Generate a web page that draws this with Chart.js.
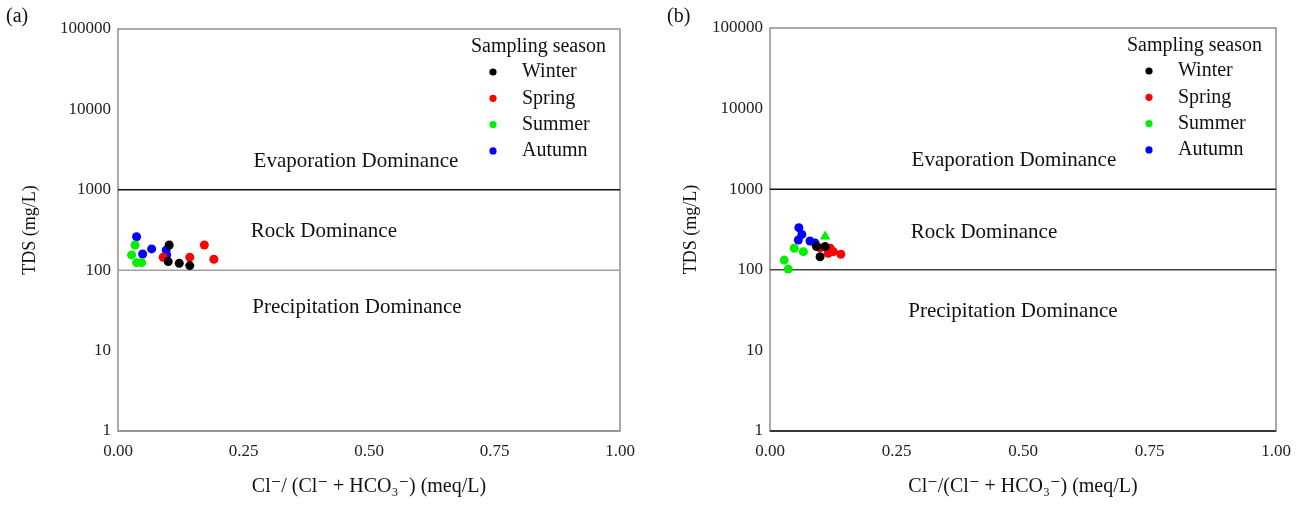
<!DOCTYPE html>
<html>
<head>
<meta charset="utf-8">
<script src="https://cdn.jsdelivr.net/npm/chart.js@4/dist/chart.umd.min.js"></script>
<style>
body{margin:0;background:#fff;width:1301px;height:506px;overflow:hidden;position:relative;font-family:"Liberation Serif",serif}
.box{position:absolute;top:0;height:506px}
.tag{position:absolute;top:4px;font-size:20px;color:#111;font-family:"Liberation Serif",serif}
</style>
</head>
<body>
<div class="box" style="left:0;width:650px"><canvas id="ca" width="650" height="506"></canvas></div>
<div class="box" style="left:650px;width:651px"><canvas id="cb" width="651" height="506"></canvas></div>
<div class="tag" style="left:6px">(a)</div>
<div class="tag" style="left:667px">(b)</div>
<script>
// seasons and colours
var seasons = ['Winter', 'Spring', 'Summer', 'Autumn'];
var seasonColors = ['#000000', '#ff0000', '#00ee00', '#0000ff'];
var legendTitle = 'Sampling season';
var zoneNames = ['Evaporation Dominance', 'Rock Dominance', 'Precipitation Dominance'];
var boundaryTDS = [1000, 100];
var yTicks = [1, 10, 100, 1000, 10000, 100000];
var xTicks = [0, 0.25, 0.5, 0.75, 1];

// panel (a): Cl/(Cl+HCO3) ratio and TDS
var winterA_ratio = [0.102, 0.100, 0.122, 0.143];
var winterA_tds   = [206, 128, 122, 114];
var springA_ratio = [0.090, 0.143, 0.172, 0.191];
var springA_tds   = [145, 145, 206, 137];
var summerA_ratio = [0.034, 0.027, 0.037, 0.047];
var summerA_tds   = [206, 155, 124, 124];
var autumnA_ratio = [0.037, 0.049, 0.067, 0.096, 0.097];
var autumnA_tds   = [261, 159, 184, 178, 155];

// panel (b)
var winterB_ratio = [0.092, 0.109, 0.099];
var winterB_tds   = [194, 194, 145];
var springB_ratio = [0.099, 0.119, 0.125, 0.115, 0.140];
var springB_tds   = [188, 185, 168, 160, 156];
var summerB_ratio = [0.048, 0.066, 0.028, 0.036, 0.109];
var summerB_tds   = [185, 168, 132, 102, 258];
var autumnB_ratio = [0.057, 0.063, 0.056, 0.079, 0.089];
var autumnB_tds   = [333, 275, 234, 228, 215];

function pts(xs, ys) {
	return xs.map(function(x, i) { return {x: x, y: ys[i]}; });
}

var serif = '"Liberation Serif", "DejaVu Serif", serif';

var decor = {
	id: 'decor',
	beforeDatasetsDraw: function(chart, args, o) {
		var ctx = chart.ctx, a = chart.chartArea;
		var xs = chart.scales.x, ys = chart.scales.y;
		ctx.save();
		ctx.strokeStyle = '#8f8f8f';
		ctx.lineWidth = 1.5;
		ctx.strokeRect(a.left, a.top, a.right - a.left, a.bottom - a.top);
		ctx.strokeStyle = o.bottomColor;
		ctx.beginPath();
		ctx.moveTo(a.left, a.bottom);
		ctx.lineTo(a.right, a.bottom);
		ctx.stroke();
		ctx.fillStyle = '#111';
		ctx.font = '21px ' + serif;
		ctx.textAlign = 'center';
		ctx.textBaseline = 'middle';
		o.zones.forEach(function(z, i) {
			ctx.fillText(zoneNames[i], xs.getPixelForValue(z[0]), ys.getPixelForValue(z[1]));
		});
		ctx.restore();
	},
	afterDraw: function(chart, args, o) {
		var ctx = chart.ctx, r = chart.chartArea.right;
		ctx.save();
		ctx.fillStyle = '#111';
		ctx.font = '20px ' + serif;
		ctx.textAlign = 'left';
		ctx.textBaseline = 'middle';
		ctx.fillText(legendTitle, r - 149, o.legendTop);
		seasons.forEach(function(s, i) {
			var y = o.legendTop + 25 + i * 26.3;
			ctx.fillStyle = seasonColors[i];
			ctx.beginPath();
			ctx.arc(r - 127, y, 3.6, 0, Math.PI * 2);
			ctx.fill();
			ctx.fillStyle = '#111';
			ctx.fillText(s, r - 98, y);
		});
		ctx.restore();
	}
};

function makeChart(id, sets, opt) {
	var datasets = sets.map(function(d, i) {
		return {
			label: seasons[i],
			data: d.data,
			backgroundColor: seasonColors[i],
			borderWidth: 0,
			pointRadius: d.radius || 4.5,
			pointStyle: d.style || 'circle',
			order: i
		};
	});
	boundaryTDS.forEach(function(v, i) {
		datasets.push({
			type: 'line',
			label: 'b' + v,
			data: [{x: 0, y: v}, {x: 1, y: v}],
			borderColor: i === 0 ? '#111' : opt.lowLine,
			borderWidth: 1.5,
			pointRadius: 0,
			order: 10
		});
	});
	return new Chart(document.getElementById(id), {
		type: 'scatter',
		data: {datasets: datasets},
		options: {
			responsive: false,
			animation: false,
			events: [],
			layout: {padding: {left: opt.padLeft, right: opt.padRight, top: opt.padTop, bottom: 0}},
			plugins: {
				legend: {display: false},
				tooltip: {enabled: false},
				decor: {zones: opt.zones, legendTop: opt.legendTop, bottomColor: opt.bottomColor}
			},
			scales: {
				x: {
					type: 'linear', min: 0, max: 1,
					afterBuildTicks: function(s) { s.ticks = xTicks.map(function(v) { return {value: v}; }); },
					ticks: {padding: 10, color: '#222', font: {family: serif, size: 17},
						callback: function(v) { return v.toFixed(2); }},
					grid: {display: false, drawTicks: false},
					border: {display: false},
					title: {display: true, text: opt.xTitle, color: '#111',
						font: {family: serif, size: 20}, padding: {top: 4, bottom: 7}},
					afterFit: function(s) { s.height = 75; }
				},
				y: {
					type: 'logarithmic', min: 1, max: 100000,
					afterBuildTicks: function(s) { s.ticks = yTicks.map(function(v) { return {value: v}; }); },
					ticks: {padding: 7, color: '#222', font: {family: serif, size: 17},
						callback: function(v) { return String(v); }},
					grid: {display: false, drawTicks: false},
					border: {display: false},
					title: {display: true, text: 'TDS (mg/L)', color: '#111',
						font: {family: serif, size: 18}, padding: {top: 5, bottom: 4}},
					afterFit: function(s) { s.width = opt.yWidth; }
				}
			}
		},
		plugins: [decor]
	});
}

makeChart('ca', [
	{data: pts(winterA_ratio, winterA_tds)},
	{data: pts(springA_ratio, springA_tds)},
	{data: pts(summerA_ratio, summerA_tds)},
	{data: pts(autumnA_ratio, autumnA_tds)}
], {
	padLeft: 14, padRight: 30, padTop: 29, yWidth: 104,
	xTitle: 'Cl\u207B/ (Cl\u207B + HCO\u2083\u207B) (meq/L)',
	zones: [[0.474, 2220], [0.41, 299], [0.476, 34]],
	legendTop: 47, lowLine: '#a0a0a0', bottomColor: '#8f8f8f'
});

makeChart('cb', [
	{data: pts(winterB_ratio, winterB_tds)},
	{data: pts(springB_ratio, springB_tds)},
	{data: pts(summerB_ratio, summerB_tds),
		style: ['circle', 'circle', 'circle', 'circle', 'triangle'],
		radius: [4.5, 4.5, 4.5, 4.5, 6]},
	{data: pts(autumnB_ratio, autumnB_tds)}
], {
	padLeft: 25, padRight: 25, padTop: 28, yWidth: 95,
	xTitle: 'Cl\u207B/(Cl\u207B + HCO\u2083\u207B) (meq/L)',
	zones: [[0.482, 2250], [0.423, 293], [0.48, 30]],
	legendTop: 46, lowLine: '#444', bottomColor: '#111'
});
</script>
</body>
</html>
